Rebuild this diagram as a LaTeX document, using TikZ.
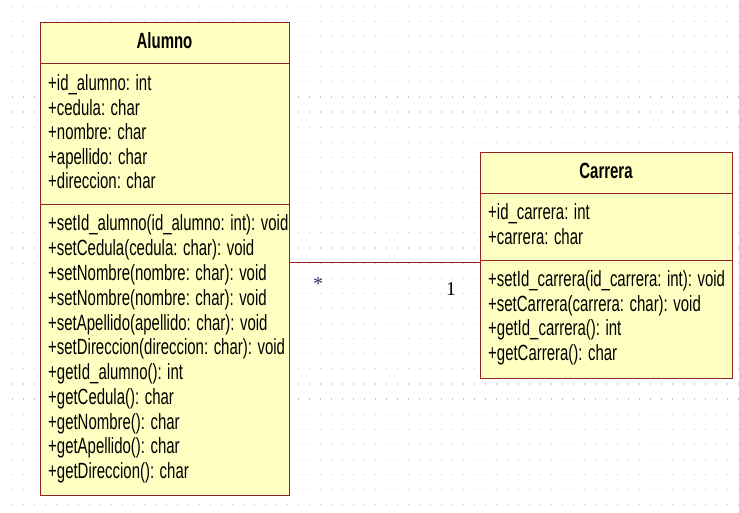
\documentclass[tikz,border=0pt]{standalone}
\usepackage{fontspec}
\setmainfont{Liberation Sans}[FakeStretch=0.68]
\newfontfamily\numfont{Liberation Serif}
\definecolor{umlfill}{RGB}{255,255,194}
\definecolor{umlborder}{RGB}{150,35,35}
\definecolor{griddot}{RGB}{200,200,200}
\definecolor{starcol}{RGB}{70,40,100}
\tikzset{
  comp/.style={draw=umlborder, line width=1.2pt, fill=umlfill, anchor=north west, inner sep=0pt, minimum width=#1},
  member/.style={anchor=base west, inner sep=0pt, font=\fontsize{22}{26}\selectfont},
  title/.style={anchor=base, inner sep=0pt, font=\fontsize{22}{26}\selectfont\bfseries},
  assoc/.style={draw=umlborder, line width=1pt},
}
\begin{document}
\begin{tikzpicture}[x=1pt,y=-1pt]
\useasboundingbox (0,0) rectangle (739,513);
\fill[white] (0,0) rectangle (739,513);
% dotted grid
\foreach \i in {0,...,66}{
  \foreach \j in {0,...,33}{
    \fill[griddot] ({12.2+11*\i},{5.8+15.1*\j}) rectangle +(1.2,1.2);
  }
}
% Alumno
\node[comp=249pt, minimum height=41pt] (ah) at (40,22) {};
\node[comp=249pt, minimum height=141pt] (aa) at (40,63) {};
\node[comp=249pt, minimum height=291pt] (am) at (40,204) {};
\node[title] (aht) at (164.5,49) {Alumno};
\foreach \t [count=\k from 0] in {+id\_alumno: int, +cedula: char, +nombre: char, +apellido: char, +direccion: char}{
  \node[member] (aat\k) at (48,{91+24.5*\k}) {\t};
}
\foreach \t [count=\k from 0] in {+setId\_alumno(id\_alumno: int): void, +setCedula(cedula: char): void, +setNombre(nombre: char): void, +setNombre(nombre: char): void, +setApellido(apellido: char): void, +setDireccion(direccion: char): void, +getId\_alumno(): int, +getCedula(): char, +getNombre(): char, +getApellido(): char, +getDireccion(): char}{
  \node[member] (amt\k) at (48,{231+24.77*\k}) {\t};
}
% Carrera
\node[comp=252pt, minimum height=41pt] (ch) at (480,152) {};
\node[comp=252pt, minimum height=67pt] (ca) at (480,193) {};
\node[comp=252pt, minimum height=118pt] (cm) at (480,260) {};
\node[title] (cht) at (606,179) {Carrera};
\foreach \t [count=\k from 0] in {+id\_carrera: int, +carrera: char}{
  \node[member] (cat\k) at (488,{220+24*\k}) {\t};
}
\foreach \t [count=\k from 0] in {+setId\_carrera(id\_carrera: int): void, +setCarrera(carrera: char): void, +getId\_carrera(): int, +getCarrera(): char}{
  \node[member] (cmt\k) at (488,{287+24.4*\k}) {\t};
}
% association
\draw[assoc] ([yshift=-58pt]am.north east) -- ([yshift=-2pt]cm.north west);
\node[anchor=base, inner sep=0pt, text=starcol, font=\numfont\fontsize{20}{22}\selectfont] (star) at (318,290) {*};
\node[anchor=base, inner sep=0pt, font=\numfont\fontsize{19.5}{22}\selectfont] (one) at (451,295) {1};
\end{tikzpicture}
\end{document}
